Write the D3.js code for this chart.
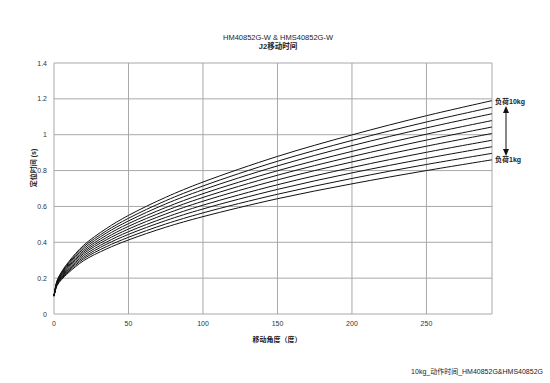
<!DOCTYPE html>
<html>
<head>
<meta charset="utf-8">
<script src="https://cdn.jsdelivr.net/npm/d3@7"></script>
<style>
  body { margin: 0; background: #fff; }
  svg { display: block; font-family: "Liberation Sans", Arial, "Noto Sans CJK SC", sans-serif; }
</style>
</head>
<body>
<svg id="chart" width="550" height="383"></svg>
<script>
// 移动角度 sample points (deg)
const angles = [0, 2, 5, 10, 20, 35, 50, 75, 100, 150, 200, 250, 294];

// 定位时间 (s), load 1kg .. 10kg
const load1kg  = [0.1, 0.158, 0.191, 0.232, 0.298, 0.362, 0.413, 0.484, 0.543, 0.643, 0.726, 0.800, 0.860];
const load2kg  = [0.1, 0.161, 0.196, 0.239, 0.308, 0.375, 0.428, 0.502, 0.564, 0.668, 0.756, 0.834, 0.896];
const load3kg  = [0.1, 0.164, 0.201, 0.246, 0.317, 0.388, 0.444, 0.521, 0.586, 0.695, 0.787, 0.868, 0.933];
const load4kg  = [0.1, 0.167, 0.205, 0.252, 0.327, 0.400, 0.459, 0.539, 0.607, 0.721, 0.817, 0.902, 0.969];
const load5kg  = [0.1, 0.170, 0.210, 0.259, 0.337, 0.413, 0.474, 0.558, 0.629, 0.748, 0.848, 0.936, 1.007];
const load6kg  = [0.1, 0.173, 0.215, 0.266, 0.346, 0.425, 0.489, 0.576, 0.650, 0.774, 0.878, 0.970, 1.043];
const load7kg  = [0.1, 0.176, 0.220, 0.273, 0.355, 0.438, 0.504, 0.594, 0.671, 0.799, 0.907, 1.003, 1.079];
const load8kg  = [0.1, 0.179, 0.225, 0.280, 0.365, 0.451, 0.519, 0.614, 0.693, 0.826, 0.939, 1.038, 1.117];
const load9kg  = [0.1, 0.182, 0.229, 0.286, 0.375, 0.463, 0.534, 0.632, 0.714, 0.852, 0.968, 1.071, 1.153];
const load10kg = [0.1, 0.185, 0.234, 0.293, 0.384, 0.476, 0.550, 0.651, 0.736, 0.879, 0.999, 1.106, 1.190];

const seriesList = [load1kg, load2kg, load3kg, load4kg, load5kg, load6kg, load7kg, load8kg, load9kg, load10kg];

const xTicks = [0, 50, 100, 150, 200, 250];
const yTicks = [0, 0.2, 0.4, 0.6, 0.8, 1, 1.2, 1.4];

const svg = d3.select("#chart");
const margin = { left: 54, right: 58, top: 63, bottom: 69 };
const W = 550, H = 383;

const x = d3.scaleLinear().domain([0, 294]).range([margin.left, W - margin.right]);
const y = d3.scaleLinear().domain([0, 1.4]).range([H - margin.bottom, margin.top]);

const grid = "#a8a8a8";

// gridlines
svg.append("g")
  .selectAll("line.v")
  .data(xTicks.concat([294]))
  .enter()
  .append("line")
  .attr("x1", d => x(d)).attr("x2", d => x(d))
  .attr("y1", y(0)).attr("y2", y(1.4))
  .attr("stroke", grid).attr("stroke-width", 1);

svg.append("g")
  .selectAll("line.h")
  .data(yTicks)
  .enter()
  .append("line")
  .attr("x1", x(0)).attr("x2", x(294))
  .attr("y1", d => y(d)).attr("y2", d => y(d))
  .attr("stroke", grid).attr("stroke-width", 1);

// tick labels
svg.append("g")
  .selectAll("text")
  .data(yTicks)
  .enter()
  .append("text")
  .attr("x", x(0) - 7)
  .attr("y", d => y(d) + 2.5)
  .attr("text-anchor", "end")
  .attr("font-size", 7)
  .attr("fill", "#333")
  .text(d => d3.format("~g")(d));

svg.append("g")
  .selectAll("text")
  .data(xTicks)
  .enter()
  .append("text")
  .attr("x", d => x(d))
  .attr("y", y(0) + 12)
  .attr("text-anchor", "middle")
  .attr("font-size", 7)
  .attr("fill", "#333")
  .text(d => d);

// curves
const line = d3.line()
  .x((d, i) => x(angles[i]))
  .y(d => y(d))
  .curve(d3.curveCatmullRom.alpha(0.5));

svg.append("g")
  .selectAll("path")
  .data(seriesList)
  .enter()
  .append("path")
  .attr("d", line)
  .attr("fill", "none")
  .attr("stroke", "#111")
  .attr("stroke-width", 1);

// titles
svg.append("text")
  .attr("x", 278).attr("y", 40)
  .attr("text-anchor", "middle")
  .attr("font-size", 7.5)
  .attr("fill", "#222")
  .text("HM40852G-W & HMS40852G-W");
svg.append("text")
  .attr("x", 278).attr("y", 49)
  .attr("text-anchor", "middle")
  .attr("font-size", 7.5)
  .attr("font-weight", "bold")
  .attr("fill", "#222")
  .text("J2移动时间");

svg.append("text")
  .attr("x", 277).attr("y", 342)
  .attr("text-anchor", "middle")
  .attr("font-size", 7)
  .attr("font-weight", "bold")
  .attr("fill", "#222")
  .text("移动角度（度）");

svg.append("text")
  .attr("transform", "translate(36,168) rotate(-90)")
  .attr("text-anchor", "middle")
  .attr("font-size", 7)
  .attr("font-weight", "bold")
  .attr("fill", "#222")
  .text("定位时间 (s)");

// load annotation
svg.append("text")
  .attr("x", 495).attr("y", 104)
  .attr("font-size", 7)
  .attr("font-weight", "bold")
  .attr("fill", "#222")
  .text("负荷10kg");
svg.append("text")
  .attr("x", 495).attr("y", 162)
  .attr("font-size", 7)
  .attr("font-weight", "bold")
  .attr("fill", "#222")
  .text("负荷1kg");

const ax = 506;
svg.append("line")
  .attr("x1", ax).attr("x2", ax)
  .attr("y1", 110).attr("y2", 152)
  .attr("stroke", "#111").attr("stroke-width", 1);
svg.append("path")
  .attr("d", `M${ax},106 L${ax - 3},113 L${ax + 3},113 Z`)
  .attr("fill", "#111");
svg.append("path")
  .attr("d", `M${ax},156 L${ax - 3},149 L${ax + 3},149 Z`)
  .attr("fill", "#111");

// footer
svg.append("text")
  .attr("x", 543).attr("y", 374)
  .attr("text-anchor", "end")
  .attr("font-size", 7)
  .attr("fill", "#222")
  .text("10kg_动作时间_HM40852G&HMS40852G");
</script>
</body>
</html>
